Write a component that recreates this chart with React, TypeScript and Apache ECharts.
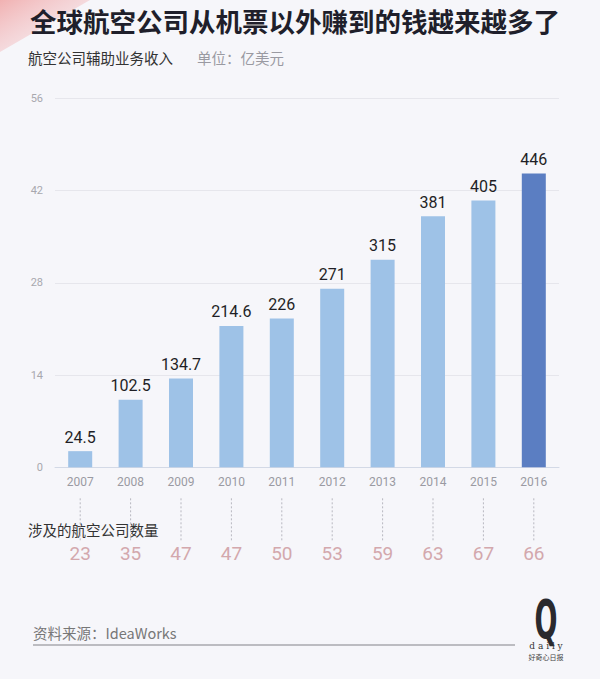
import React, { useEffect, useRef } from "react";
import * as echarts from "echarts";

const years = ["2007", "2008", "2009", "2010", "2011", "2012", "2013", "2014", "2015", "2016"];
const revenue = [24.5, 102.5, 134.7, 214.6, 226, 271, 315, 381, 405, 446];
const airlines = [23, 35, 47, 47, 50, 53, 59, 63, 67, 66];
const yTicks = [0, 14, 28, 42, 56];

const FONT = "'Noto Sans CJK SC', 'Noto Sans', sans-serif";
const LATIN = "Roboto, 'Liberation Sans', sans-serif";

export default function App() {
  const ref = useRef<HTMLDivElement>(null);
  useEffect(() => {
    document.body.style.margin = "0";
    const chart = echarts.init(ref.current!, null, { renderer: "svg" });
    const last = years.length - 1;
    chart.setOption({
      animation: false,
      backgroundColor: "#f6f6fa",
      textStyle: { fontFamily: FONT },
      graphic: [
        {
          type: "polygon",
          shape: { points: [[0, 0], [90, 0], [0, 52]] },
          style: {
            fill: new echarts.graphic.LinearGradient(0, 0, 1, 1, [
              { offset: 0, color: "rgba(240,165,165,0.85)" },
              { offset: 1, color: "rgba(246,220,225,0.2)" },
            ]),
          },
          z: -1,
        },
        {
          type: "text",
          x: 30,
          y: 20,
          style: { text: "全球航空公司从机票以外赚到的钱越来越多了", fontSize: 26.5, fontWeight: "bold", fill: "#1f1f2b", verticalAlign: "middle", fontFamily: FONT },
        },
        {
          type: "text",
          x: 28,
          y: 57,
          style: { text: "航空公司辅助业务收入", fontSize: 14.5, fill: "#333", verticalAlign: "middle", fontFamily: FONT },
        },
        {
          type: "text",
          x: 197,
          y: 57,
          style: { text: "单位：亿美元", fontSize: 14.5, fill: "#9a9aa2", verticalAlign: "middle", fontFamily: FONT },
        },
        {
          type: "text",
          x: 28,
          y: 529,
          style: { text: "涉及的航空公司数量", fontSize: 14.5, fill: "#333", verticalAlign: "middle", fontFamily: FONT },
        },
        {
          type: "text",
          x: 33,
          y: 632,
          style: { text: "资料来源：IdeaWorks", fontSize: 14.5, fill: "#777", verticalAlign: "middle", fontFamily: FONT },
        },
        {
          type: "line",
          shape: { x1: 33, y1: 645, x2: 515, y2: 645 },
          style: { stroke: "#a8a8ae", lineWidth: 1.5 },
        },
        {
          type: "text",
          x: 546,
          y: 592,
          scaleX: 0.5,
          style: { text: "Q", fontSize: 54, fontWeight: "bold", fill: "#2a2a2e", align: "center", verticalAlign: "top", fontFamily: "'DejaVu Sans'" },
        },
        {
          type: "text",
          x: 546,
          y: 646,
          style: { text: "d a i l y", fontSize: 9, fill: "#333", align: "center", verticalAlign: "middle", fontFamily: "'DejaVu Serif'" },
        },
        {
          type: "text",
          x: 546,
          y: 657,
          style: { text: "好奇心日报", fontSize: 7, fill: "#444", align: "center", verticalAlign: "middle", fontFamily: FONT },
        },
      ],
      grid: { left: 55, right: 41, top: 98.3, bottom: 211.7, containLabel: false },
      xAxis: {
        type: "category",
        data: years,
        axisLine: { lineStyle: { color: "#d3d9e6" } },
        axisTick: { show: false },
        axisLabel: { color: "#9a9aa2", fontSize: 12, margin: 9, fontFamily: LATIN },
      },
      yAxis: {
        type: "value",
        min: yTicks[0],
        max: yTicks[yTicks.length - 1],
        interval: 14,
        axisLine: { show: false },
        axisTick: { show: false },
        axisLabel: { color: "#a8a8ae", fontSize: 11, margin: 12, fontFamily: LATIN },
        splitLine: { lineStyle: { color: "#e6e6ec" } },
      },
      series: [
        {
          type: "bar",
          barWidth: 24,
          data: revenue.map((v, i) => ({
            value: v / 10,
            itemStyle: { color: i === last ? "#5b7ec2" : "#9ec2e7" },
          })),
          label: {
            show: true,
            position: "top",
            distance: 6,
            fontSize: 16,
            color: "#1f1f26",
            fontFamily: LATIN,
            formatter: (p: any) => String(revenue[p.dataIndex]),
          },
        },
        {
          type: "custom",
          clip: false,
          silent: true,
          data: airlines.map((n, i) => [i, n]),
          renderItem: (params: any, api: any) => {
            const idx = api.value(0);
            const p = api.coord([idx, 0]);
            const x = p[0];
            const y0 = p[1];
            return {
              type: "group",
              children: [
                {
                  type: "line",
                  shape: { x1: x, y1: y0 + 31, x2: x, y2: y0 + 75 },
                  style: { stroke: "#b8b8c0", lineWidth: 1, lineDash: [2, 2] },
                },
                {
                  type: "text",
                  x: x,
                  y: y0 + 86,
                  style: {
                    text: String(airlines[idx]),
                    fontSize: 19,
                    fill: "#d3a8ad",
                    align: "center",
                    verticalAlign: "middle",
                    fontFamily: LATIN,
                  },
                },
              ],
            };
          },
        },
      ],
    });
    return () => chart.dispose();
  }, []);
  return <div ref={ref} style={{ width: 600, height: 679 }} />;
}
